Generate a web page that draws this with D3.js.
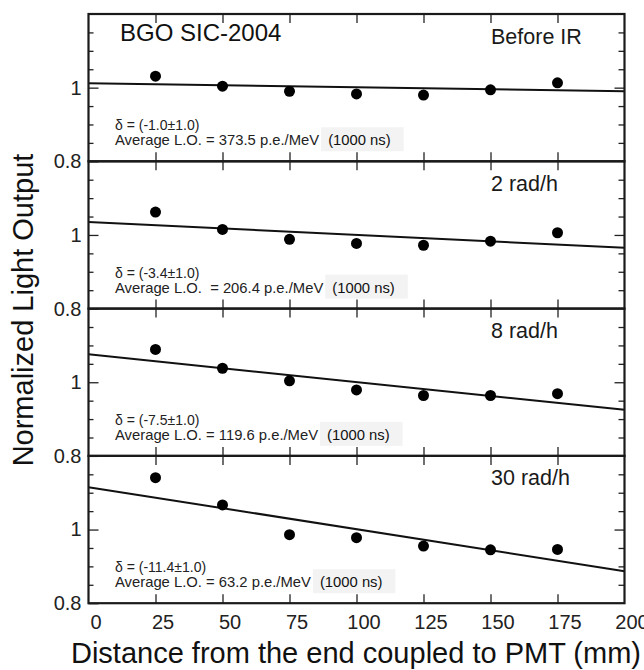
<!DOCTYPE html>
<html>
<head>
<meta charset="utf-8">
<script src="https://cdn.jsdelivr.net/npm/d3@7"></script>
<style>
  html, body { margin: 0; padding: 0; background: #fff; }
  svg { display: block; }
  text { font-family: "Liberation Sans", Arial, Helvetica, sans-serif; }
</style>
</head>
<body>
<svg id="chart" width="644" height="670"></svg>
<script>
// ---------------- data ----------------
const xPositions = [25, 50, 75, 100, 125, 150, 175];
const xTicks = [0, 25, 50, 75, 100, 125, 150, 175, 200];
const yMinorTicks = [0.85, 0.9, 0.95, 1.05, 1.1, 1.15];
const yLabelTicks = [0.8, 1];
const panelLabels = ["Before IR", "2 rad/h", "8 rad/h", "30 rad/h"];
const beforeIR = [1.031, 1.004, 0.990, 0.983, 0.980, 0.994, 1.013];
const rad2 = [1.062, 1.015, 0.988, 0.977, 0.972, 0.983, 1.006];
const rad8 = [1.089, 1.038, 1.004, 0.979, 0.964, 0.964, 0.969];
const rad30 = [1.141, 1.067, 0.986, 0.978, 0.955, 0.945, 0.946];
const fitAt0 = [1.012, 1.035, 1.076, 1.115];
const fitAt200 = [0.990, 0.965, 0.925, 0.887];
const deltaTexts = ["δ = (-1.0±1.0)", "δ = (-3.4±1.0)", "δ = (-7.5±1.0)", "δ = (-11.4±1.0)"];
const avgTexts = ["Average L.O. = 373.5 p.e./MeV", "Average L.O.  = 206.4 p.e./MeV",
                  "Average L.O. = 119.6 p.e./MeV", "Average L.O. = 63.2 p.e./MeV"];
const gateText = "(1000 ns)";
const titleText = "BGO SIC-2004";
const xTitle = "Distance from the end coupled to PMT (mm)";
const yTitle = "Normalized Light Output";

const seriesList = [beforeIR, rad2, rad8, rad30];

// ---------------- layout ----------------
const svg = d3.select("#chart");
const plotLeft = 88.5, plotRight = 624.5, plotTop = 14, panelH = 147.3;
const x = d3.scaleLinear().domain([0, 200]).range([plotLeft, plotRight]);

seriesList.forEach((vals, i) => {
  const pTop = plotTop + i * panelH;
  const pBot = pTop + panelH;
  const y = d3.scaleLinear().domain([0.8, 1.2]).range([pBot, pTop]);
  const g = svg.append("g");

  // annotation box + texts (drawn first, under marks)
  g.append("text").attr("x", 115).attr("y", pBot - 31)
    .attr("font-size", 14).attr("fill", "#222").text(deltaTexts[i]);
  const avg = g.append("text").attr("x", 115).attr("y", pBot - 16)
    .attr("font-size", 14.8).attr("fill", "#222")
    .style("white-space", "pre").text(avgTexts[i]);
  const avgEnd = 115 + avg.node().getComputedTextLength();
  const boxG = g.append("g");
  const gate = boxG.append("text").attr("x", avgEnd + 9).attr("y", pBot - 16)
    .attr("font-size", 14.8).attr("fill", "#111").text(gateText);
  const gw = gate.node().getComputedTextLength();
  boxG.insert("rect", "text").attr("x", avgEnd + 2).attr("y", pBot - 34)
    .attr("width", gw + 20).attr("height", 24).attr("fill", "#f3f3f3");

  // fit line
  g.append("line")
    .attr("x1", x(0)).attr("y1", y(fitAt0[i]))
    .attr("x2", x(200)).attr("y2", y(fitAt200[i]))
    .attr("stroke", "#111").attr("stroke-width", 2);

  // points
  g.selectAll("circle").data(vals).join("circle")
    .attr("cx", (d, k) => x(xPositions[k]))
    .attr("cy", d => y(d))
    .attr("r", 5.5).attr("fill", "#000");

  // y ticks (inward)
  const leftMinor = g.append("g").attr("transform", `translate(${plotLeft},0)`)
    .call(d3.axisLeft(y).tickValues(yMinorTicks).tickSize(-5).tickFormat(""));
  const leftMajor = g.append("g").attr("transform", `translate(${plotLeft},0)`)
    .call(d3.axisLeft(y).tickValues(yLabelTicks).tickSize(-10).tickPadding(7)
      .tickFormat(d => d === 1 ? "1" : "0.8"));
  const rightMinor = g.append("g").attr("transform", `translate(${plotRight},0)`)
    .call(d3.axisRight(y).tickValues(yMinorTicks).tickSize(-6).tickFormat(""));
  const rightMajor = g.append("g").attr("transform", `translate(${plotRight},0)`)
    .call(d3.axisRight(y).tickValues([1]).tickSize(-10).tickFormat(""));
  [leftMinor, leftMajor, rightMinor, rightMajor].forEach(a => {
    a.select(".domain").remove();
    a.selectAll(".tick line").attr("stroke", "#222").attr("stroke-width", 1.3);
  });
  leftMajor.selectAll(".tick text").attr("font-size", 20).attr("fill", "#222")
    .attr("font-family", "Liberation Sans, Arial, sans-serif");

  // x ticks top and bottom of each panel (inward)
  const topAx = g.append("g").attr("transform", `translate(0,${pTop})`)
    .call(d3.axisTop(x).tickValues(xTicks.slice(1, -1)).tickSize(-9).tickFormat(""));
  const botAx = g.append("g").attr("transform", `translate(0,${pBot})`)
    .call(d3.axisBottom(x).tickValues(xTicks.slice(1, -1)).tickSize(-9).tickFormat(""));
  [topAx, botAx].forEach(a => {
    a.select(".domain").remove();
    a.selectAll(".tick line").attr("stroke", "#222").attr("stroke-width", 1.3);
  });

  // frame
  g.append("rect").attr("x", plotLeft).attr("y", pTop)
    .attr("width", plotRight - plotLeft).attr("height", panelH)
    .attr("fill", "none").attr("stroke", "#1a1a1a").attr("stroke-width", 2.2);

  // panel label
  g.append("text").attr("x", 491).attr("y", pTop + 29.5)
    .attr("font-size", 21.5).attr("fill", "#1a1a1a").text(panelLabels[i]);
});

// bottom x tick labels
const bottomY = plotTop + 4 * panelH;
const xLab = svg.append("g").attr("transform", `translate(0,${bottomY})`)
  .call(d3.axisBottom(x).tickValues(xTicks).tickSize(0).tickPadding(12));
xLab.select(".domain").remove();
xLab.selectAll(".tick text").attr("font-size", 20).attr("fill", "#222")
  .attr("font-family", "Liberation Sans, Arial, sans-serif").attr("dx", 7);

// title
svg.append("text").attr("x", 120).attr("y", 41)
  .attr("font-family", "Open Sans, Noto Sans, sans-serif")
  .attr("font-size", 24).attr("fill", "#111").text(titleText);

// axis titles
svg.append("text").attr("x", 356).attr("y", 663)
  .attr("text-anchor", "middle").attr("font-size", 29).attr("fill", "#111").text(xTitle);
svg.append("text").attr("transform", "translate(33,310) rotate(-90)")
  .attr("text-anchor", "middle").attr("font-size", 29).attr("fill", "#111").text(yTitle);
</script>
</body>
</html>
